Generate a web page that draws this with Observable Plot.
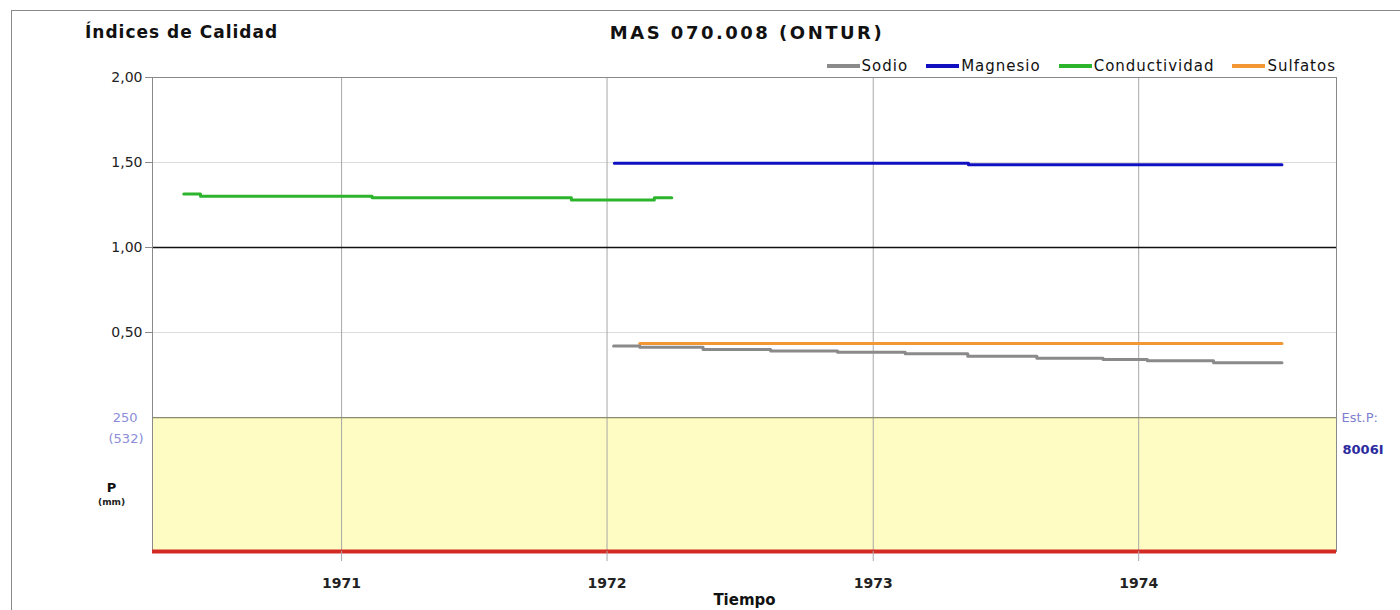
<!DOCTYPE html>
<html>
<head>
<meta charset="utf-8">
<script src="https://cdn.jsdelivr.net/npm/d3@7"></script>
<script src="https://cdn.jsdelivr.net/npm/@observablehq/plot@0.6"></script>
<style>
  html, body { margin: 0; padding: 0; background: #fff; }
  body { width: 1400px; height: 610px; overflow: hidden; position: relative; font-family: "DejaVu Sans", sans-serif; }
  #frame { position: absolute; left: 11px; top: 10px; width: 1400px; height: 620px; border: 1px solid #8a8a8a; box-sizing: border-box; pointer-events: none; }
  #header { position: relative; height: 75px; }
  #title-left { position: absolute; left: 85px; top: 22px; font-weight: bold; font-size: 17px; letter-spacing: 1px; color: #111; white-space: nowrap; }
  #title-center { position: absolute; left: 747px; top: 22px; transform: translateX(-50%); font-weight: bold; font-size: 18px; letter-spacing: 2.5px; color: #111; white-space: nowrap; }
  #legend { position: absolute; right: 64px; top: 57px; display: flex; align-items: center; font-size: 15px; letter-spacing: 1px; color: #111; white-space: nowrap; }
  .item { display: flex; align-items: center; margin-left: 18px; }
  .sw { width: 33px; height: 4px; margin-right: 2px; }
  #chart svg { display: block; }
</style>
</head>
<body>
<div id="frame"></div>
<div id="header">
  <div id="title-left">Índices de Calidad</div>
  <div id="title-center">MAS 070.008 (ONTUR)</div>
  <div id="legend"></div>
</div>
<div id="chart"></div>
<script>
// ---- data ----
const seriesNames = ["Sodio", "Magnesio", "Conductividad", "Sulfatos"];
const seriesColors = ["#8a8a8a", "#1010c0", "#2cb52c", "#f29733"];

const sodioDates = ["1972-01-10","1972-02-15","1972-05-12","1972-08-13","1972-11-13","1973-02-14","1973-05-11","1973-08-14","1973-11-13","1974-01-13","1974-04-14","1974-07-17"];
const sodioValues = [0.421, 0.413, 0.400, 0.392, 0.384, 0.375, 0.361, 0.349, 0.341, 0.334, 0.322, 0.322];

const magnesioDates = ["1972-01-11","1973-05-12","1974-07-17"];
const magnesioValues = [1.495, 1.487, 1.487];

const conductividadDates = ["1970-05-29","1970-06-21","1971-02-12","1971-11-13","1972-03-06","1972-03-30"];
const conductividadValues = [1.315, 1.302, 1.292, 1.279, 1.293, 1.293];

const sulfatosDates = ["1972-02-15","1974-07-17"];
const sulfatosValues = [0.435, 0.435];

const xTickYears = [1971, 1972, 1973, 1974];
const yTicks = [0.5, 1.0, 1.5, 2.0];
const xDomainDates = ["1970-04-16", "1974-09-30"];
const yDomain = [-0.788, 2.0];
const precipTopLabel = "250";
const precipMaxLabel = "(532)";
const precipAxisLabel = "P";
const precipUnitLabel = "(mm)";
const stationLabel = "Est.P:";
const stationCode = "8006I";
const xAxisTitle = "Tiempo";

// ---- build ----
const parse = s => new Date(s + "T00:00:00Z");
const mk = (dates, values, name) => dates.map((d, i) => ({date: parse(d), value: values[i], series: name}));
const series = [
  mk(sodioDates, sodioValues, "Sodio"),
  mk(magnesioDates, magnesioValues, "Magnesio"),
  mk(conductividadDates, conductividadValues, "Conductividad"),
  mk(sulfatosDates, sulfatosValues, "Sulfatos")
];
const colorOf = Object.fromEntries(seriesNames.map((n, i) => [n, seriesColors[i]]));
const xDomain = xDomainDates.map(parse);
const yearDates = xTickYears.map(y => new Date(Date.UTC(y, 0, 1)));
const fmtY = d => d.toFixed(2).replace(".", ",");

// legend
const legend = document.getElementById("legend");
seriesNames.forEach((n, i) => {
  const it = document.createElement("div");
  it.className = "item";
  it.innerHTML = `<span class="sw" style="background:${seriesColors[i]}"></span><span>${n}</span>`;
  legend.appendChild(it);
});

const band = [{x1: xDomain[0], x2: xDomain[1], y1: yDomain[0], y2: 0}];

const chart = Plot.plot({
  width: 1400,
  height: 535,
  marginTop: 2,
  marginBottom: 59,
  marginLeft: 152,
  marginRight: 64,
  style: {fontFamily: "DejaVu Sans, sans-serif", background: "transparent", overflow: "visible"},
  x: {type: "utc", domain: xDomain},
  y: {domain: yDomain},
  marks: [
    Plot.rect(band, {x1: "x1", x2: "x2", y1: "y1", y2: "y2", fill: "#fefcc2"}),
    Plot.ruleY([0.5, 1.5], {stroke: "#dcdcdc", strokeWidth: 1}),
    Plot.ruleX(yearDates, {y1: yDomain[0], y2: yDomain[1], stroke: "#a8a8a8", strokeWidth: 1}),
    Plot.ruleY([1.0], {stroke: "#111", strokeWidth: 1.3}),
    Plot.ruleY([0], {stroke: "#8a8a6e", strokeWidth: 1.3}),
    Plot.frame({stroke: "#8a8a8a"}),
    Plot.ruleY([yDomain[0]], {stroke: "#d42a24", strokeWidth: 4}),
    Plot.axisY({ticks: yTicks, tickFormat: fmtY, tickSize: 7, tickPadding: 3, fontSize: 14, stroke: "#8a8a8a", fill: "#222", style: "letter-spacing:0.5px"}),
    Plot.axisX({ticks: yearDates, tickFormat: d3.utcFormat("%Y"), tickSize: 10, tickPadding: 17, fontSize: 14, fontWeight: "bold", stroke: "#a8a8a8", fill: "#222", label: null}),
    ...[3, 0, 1, 2].map(i => Plot.line(series[i], {x: "date", y: "value", stroke: colorOf[seriesNames[i]], strokeWidth: 3, curve: "step-after"})),
    Plot.text([precipTopLabel], {x: xDomain[0], y: 0, dx: -15, textAnchor: "end", fill: "#8c8cd8", fontSize: 13, style: "letter-spacing:1px"}),
    Plot.text([precipMaxLabel], {x: xDomain[0], y: 0, dx: -9, dy: 21, textAnchor: "end", fill: "#8c8cd8", fontSize: 13, style: "letter-spacing:1px"}),
    Plot.text([precipAxisLabel], {x: xDomain[0], y: yDomain[0] / 2, dx: -41, dy: 3, textAnchor: "middle", fill: "#111", fontSize: 13, fontWeight: "bold"}),
    Plot.text([precipUnitLabel], {x: xDomain[0], y: yDomain[0] / 2, dx: -41, dy: 18, textAnchor: "middle", fill: "#222", fontSize: 9, fontWeight: "bold"}),
    Plot.text([stationLabel], {x: xDomain[1], y: 0, dx: 5, textAnchor: "start", fill: "#7f7fd0", fontSize: 13}),
    Plot.text([stationCode], {x: xDomain[1], y: 0, dx: 6, dy: 32, textAnchor: "start", fill: "#2b2b9e", fontSize: 13, fontWeight: "bold", style: "letter-spacing:3.5px"}),
    Plot.text([xAxisTitle], {frameAnchor: "bottom", lineAnchor: "middle", dy: 49, textAnchor: "middle", fill: "#111", fontSize: 15, fontWeight: "bold"})
  ]
});
document.getElementById("chart").appendChild(chart);
</script>
</body>
</html>
